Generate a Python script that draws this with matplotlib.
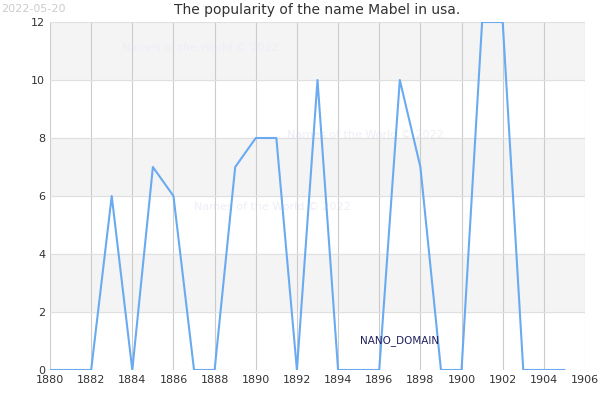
import matplotlib
matplotlib.use("Agg")
import matplotlib.pyplot as plt

years = list(range(1880, 1906))
values = [0,0,0,6,0,7,6,0,0,7,8,8,0,10,0,0,0,10,7,0,0,12,12,0,0,0]

fig = plt.figure(figsize=(6, 4), dpi=100)
ax = fig.add_axes([50/600, 30/400, 535/600, 348/400])
for lo in (2, 6, 10):
    ax.axhspan(lo, lo + 2, color="#f4f4f4", zorder=0)
ax.plot(years, values, color="#6aaaf0", lw=1.5, zorder=3)
ax.set_xlim(1880, 1906)
ax.set_ylim(0, 12)
ax.set_xticks(range(1880, 1907, 2))
ax.set_yticks(range(0, 13, 2))
ax.grid(axis="x", color="#cccccc", lw=0.8)
ax.grid(axis="y", color="#e0e0e0", lw=0.8)
for s in ax.spines.values():
    s.set_visible(False)
ax.tick_params(labelsize=8, length=0, colors="#333333")
ax.set_title("The popularity of the name Mabel in usa.", fontsize=10, color="#333333")
fig.text(0.002, 0.99, "2022-05-20", fontsize=8, color="#cccccc", va="top")
for x, y in [(1883.5, 11), (1887, 5.5), (1891.5, 8)]:
    ax.text(x, y, "Names of the World © 2022", fontsize=8, color="#eeeef8", zorder=1)
ax.text(1897, 1, "NANO_DOMAIN", fontsize=7.5, color="#202060", ha="center",
        va="center", zorder=4)
fig.savefig("out.png")
